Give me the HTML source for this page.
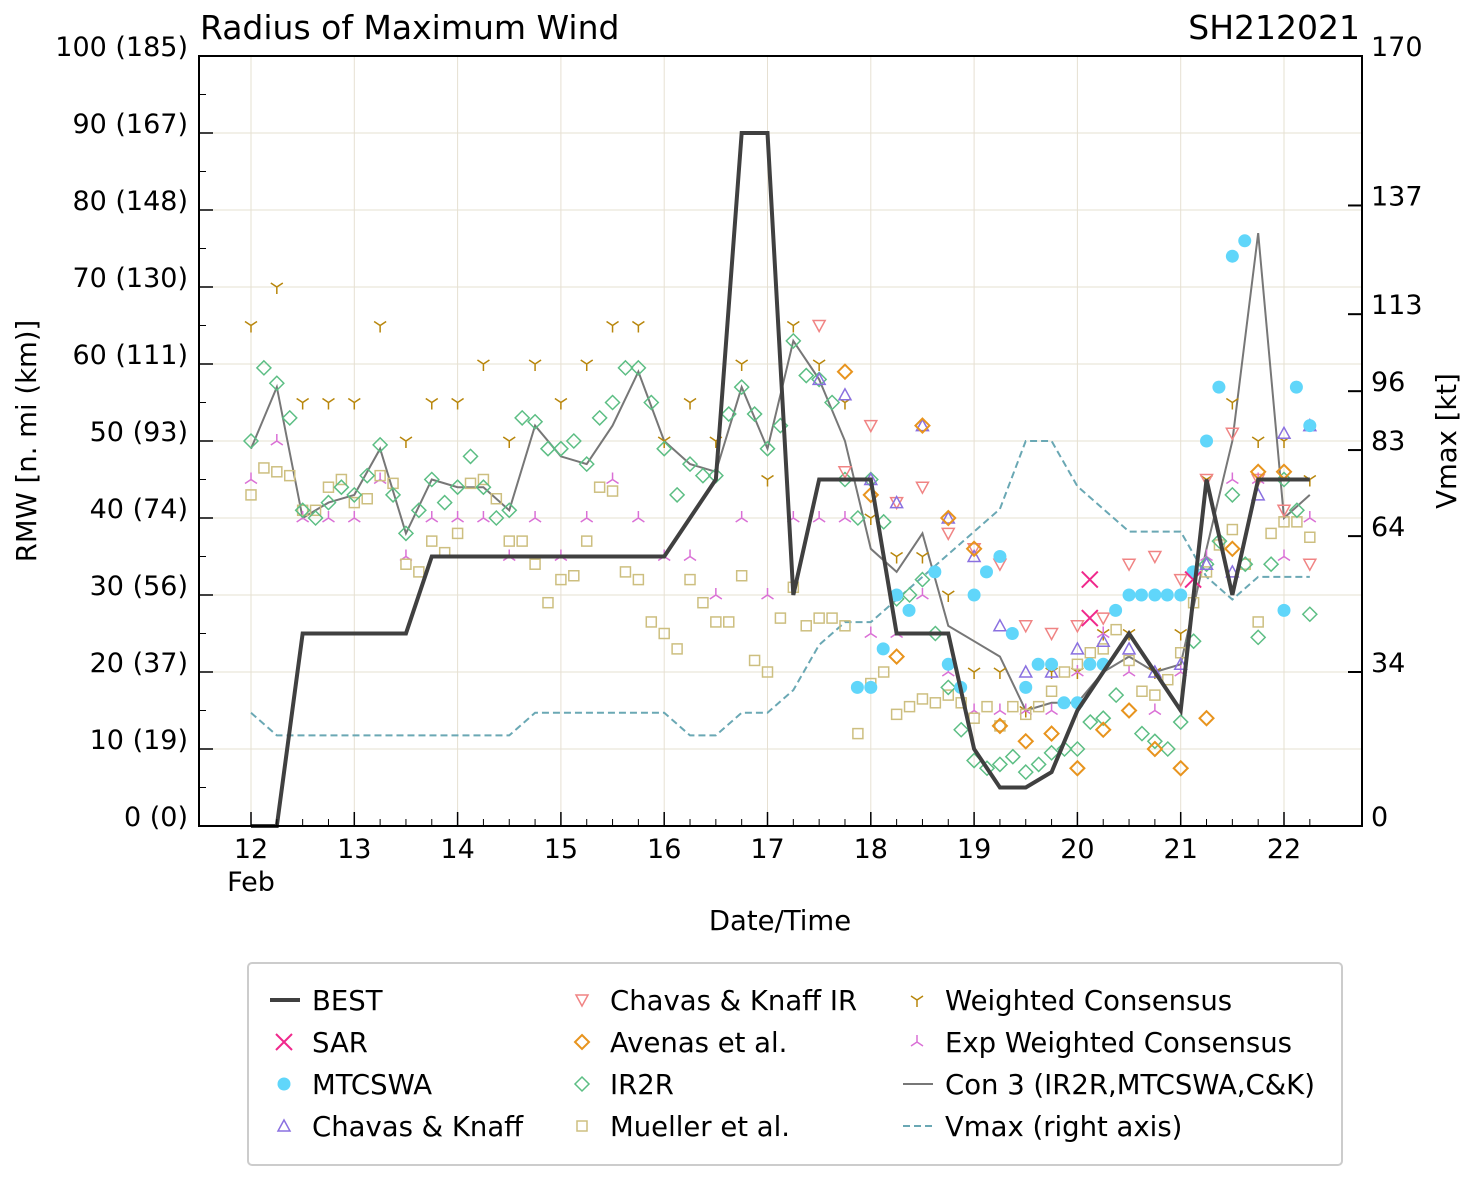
<!DOCTYPE html>
<html><head><meta charset="utf-8"><style>
body{margin:0;background:#fff;}
svg{display:block;font-family:"DejaVu Sans","Liberation Sans",sans-serif;}
</style></head><body>
<svg id="c" width="1477" height="1180"></svg>
<script>
const days=[12,12.25,12.5,12.75,13,13.25,13.5,13.75,14,14.25,14.5,14.75,15,15.25,15.5,15.75,16,16.25,16.5,16.75,17,17.25,17.5,17.75,18,18.25,18.5,18.75,19,19.25,19.5,19.75,20,20.25,20.5,20.75,21,21.25,21.5,21.75,22,22.25];
const bestV=[0,0,25,25,25,25,25,35,35,35,35,35,35,35,35,35,35,40,45,90,90,30,45,45,45,25,25,25,10,5,5,7,15,20,25,20,15,45,30,45,45,45];
const vmaxV=[25,20,20,20,20,20,20,20,20,20,20,25,25,25,25,25,25,20,20,25,25,30,40,45,45,50,55,60,65,70,85,85,75,70,65,65,65,55,50,55,55,55];
const con3V=[49,57,40,42,43,49,38,45,44,44,41,52,48,47,52,59,50,47,46,57,49,63,58,50,36,33,38,26,24,22,15,16,16,20,22,20,21,36,50,77,40,43];
const wcV=[65,70,55,55,55,65,50,55,55,60,50,60,55,60,65,65,50,55,50,60,45,65,60,55,40,35,35,30,20,20,15,20,20,25,25,20,25,45,55,50,50,45];
const ewcV=[45,50,40,40,40,45,35,40,40,40,35,40,35,40,45,40,35,35,30,40,30,40,40,40,25,25,30,20,15,15,15,15,20,25,20,15,20,35,45,45,35,40];
const sarT=[20.12,20.12,21.12], sarV=[32,27,32];
const mtT=[17.87,18,18.12,18.25,18.37,18.62,18.75,18.87,19,19.12,19.25,19.37,19.5,19.62,19.75,19.87,20,20.12,20.25,20.37,20.5,20.62,20.75,20.87,21,21.12,21.25,21.37,21.5,21.62,22,22.12,22.25];
const mtV=[18,18,23,30,28,33,21,18,30,33,35,25,18,21,21,16,16,21,21,28,30,30,30,30,30,33,50,57,74,76,28,57,52];
const ckT=[17.5,17.75,18,18.25,18.5,18.75,19,19.25,19.5,19.75,20,20.25,20.5,20.75,21,21.25,21.5,21.75,22,22.25];
const ckV=[58,56,45,42,52,40,35,26,20,20,23,24,23,20,21,34,33,43,51,52];
const ckirV=[65,46,52,42,44,38,36,34,26,25,26,27,34,35,32,45,51,45,41,34];
const avT=[17.75,18,18.25,18.5,18.75,19,19.25,19.5,19.75,20,20.25,20.5,20.75,21,21.25,21.5,21.75,22];
const avV=[59,43,22,52,40,36,13,11,12,7.5,12.5,15,10,7.5,14,36,46,46];
const irV=[50,59.5,57.5,53,41,40,42,44,43,45.5,49.5,43,38,41,45,42,44,48,44,40,41,53,52.5,49,49,50,47,53,55,59.5,59.5,55,49,43,47,45.5,45.5,53.5,57,53.5,49,52,63,58.5,58,55,45,40,45,39.5,29.5,30,32,25,18,12.5,8.5,7.5,8,9,7,8,9.5,10,10,13.5,14,17,15,12,11,10,13.5,24,34,37,43,34,24.5,34,45,41,27.5];
const muV=[43,46.5,46,45.5,41,41,44,45,42,42.5,45.5,44.5,34,33,37,35.5,38,44.5,45,42.5,37,37,34,29,32,32.5,37,44,43.5,33,32,26.5,25,23,32,29,26.5,26.5,32.5,21.5,20,27,31,26,27,27,26,12,18.5,20,14.5,15.5,16.5,16,17,16,14,15.5,13,15.5,14.5,15.5,17.5,20,21,22.5,23,25.5,21.5,17.5,17,19,22.5,29,33,36.5,38.5,34,26.5,38,39.5,39.5,37.5];
const yTicks=[0,10,20,30,40,50,60,70,80,90,100];
const yLabels=["0 (0)","10 (19)","20 (37)","30 (56)","40 (74)","50 (93)","60 (111)","70 (130)","80 (148)","90 (167)","100 (185)"];
const rTicks=[0,34,64,83,96,113,137,170];
const xTicks=[12,13,14,15,16,17,18,19,20,21,22];

const L=199,R=1362,T=56,B=826;
const X=t=>251+(t-12)*103.3;
const Y=v=>B-v*7.7;
const YR=v=>B-v*770/170;
const svg=document.getElementById('c');
const NS='http://www.w3.org/2000/svg';
function mk(tag,attrs,parent){const e=document.createElementNS(NS,tag);for(const k in attrs)e.setAttribute(k,attrs[k]);(parent||svg).appendChild(e);return e;}
function txt(s,x,y,size,anchor,parent){const e=mk('text',{x:x,y:y,'font-size':size,'text-anchor':anchor||'start',fill:'#000'},parent);e.textContent=s;return e;}
const tHalf=[];for(let i=0;i<irV.length;i++)tHalf.push(12+i*0.125);

const grid=mk('g',{});


xTicks.forEach(t=>mk('line',{x1:X(t),x2:X(t),y1:T,y2:B,stroke:'#e6e0d2','stroke-width':1},grid));
yTicks.forEach(v=>mk('line',{x1:L,x2:R,y1:Y(v),y2:Y(v),stroke:'#e6e0d2','stroke-width':1},grid));

function poly(ts,vs,yf,style,name){const p=mk('polyline',Object.assign({points:ts.map((t,i)=>X(t)+','+yf(vs[i])).join(' '),fill:'none'},style));

}
function marker(kind,x,y,g){
  if(kind==='x'){mk('path',{d:`M${x-8},${y-8}L${x+8},${y+8}M${x-8},${y+8}L${x+8},${y-8}`,stroke:'#f0288c','stroke-width':2,fill:'none'},g);}
  else if(kind==='o'){mk('circle',{cx:x,cy:y,r:6.5,fill:'#60d6fa'},g);}
  else if(kind==='^'){mk('path',{d:`M${x},${y-6}L${x+6},${y+5}L${x-6},${y+5}Z`,fill:'none',stroke:'#8a70e0','stroke-width':1.5},g);}
  else if(kind==='v'){mk('path',{d:`M${x},${y+6}L${x+6},${y-5}L${x-6},${y-5}Z`,fill:'none',stroke:'#f08484','stroke-width':1.5},g);}
  else if(kind==='da'){mk('path',{d:`M${x},${y-7}L${x+7},${y}L${x},${y+7}L${x-7},${y}Z`,fill:'none',stroke:'#e8941e','stroke-width':2},g);}
  else if(kind==='dg'){mk('path',{d:`M${x},${y-7}L${x+7},${y}L${x},${y+7}L${x-7},${y}Z`,fill:'none',stroke:'#5cbe84','stroke-width':1.5},g);}
  else if(kind==='s'){mk('rect',{x:x-5,y:y-5,width:10,height:10,fill:'none',stroke:'#cdbf80','stroke-width':1.5},g);}
  else if(kind==='1'){mk('path',{d:`M${x},${y}L${x},${y+7}M${x},${y}L${x-6},${y-4}M${x},${y}L${x+6},${y-4}`,fill:'none',stroke:'#b8860b','stroke-width':1.5},g);}
  else if(kind==='2'){mk('path',{d:`M${x},${y}L${x},${y-7}M${x},${y}L${x-6},${y+4}M${x},${y}L${x+6},${y+4}`,fill:'none',stroke:'#da70d6','stroke-width':1.5},g);}
}
function scatter(kind,ts,vs,name){const g=mk('g',{});


ts.forEach((t,i)=>marker(kind,X(t),Y(vs[i]),g));}

poly(days,vmaxV,YR,{stroke:'#6aa8b4','stroke-width':2,'stroke-dasharray':'7,4'},'vmax-line');
poly(days,con3V,Y,{stroke:'#777','stroke-width':2},'con3-line');
scatter('1',days,wcV,'weighted-consensus-points');
scatter('2',days,ewcV,'exp-weighted-consensus-points');
scatter('s',tHalf.slice(0,muV.length),muV,'mueller-points');
scatter('dg',tHalf.slice(0,irV.length),irV,'ir2r-points');
scatter('v',ckT,ckirV,'chavas-knaff-ir-points');
scatter('^',ckT,ckV,'chavas-knaff-points');
scatter('da',avT,avV,'avenas-points');
scatter('o',mtT,mtV,'mtcswa-points');
scatter('x',sarT,sarV,'sar-points');
poly(days,bestV,Y,{stroke:'#404040','stroke-width':4},'best-line');

mk('rect',{x:L,y:T,width:R-L,height:B-T,fill:'none',stroke:'#000','stroke-width':2});
const ax=mk('g',{});


yTicks.forEach((v,i)=>{mk('line',{x1:L,x2:L+14,y1:Y(v),y2:Y(v),stroke:'#000','stroke-width':1.5},ax);txt(yLabels[i],188,Y(v),27,'end',ax);});
for(let v=5;v<100;v+=10)mk('line',{x1:L,x2:L+7,y1:Y(v),y2:Y(v),stroke:'#000','stroke-width':1},ax);
const rx=mk('g',{});


rTicks.forEach(v=>{mk('line',{x1:R-14,x2:R,y1:YR(v),y2:YR(v),stroke:'#000','stroke-width':2},rx);txt(String(v),1371,YR(v),27,'start',rx);});
const xa=mk('g',{});


xTicks.forEach(t=>{mk('line',{x1:X(t),x2:X(t),y1:B,y2:B-14,stroke:'#000','stroke-width':1.5},xa);txt(String(t),X(t),858,27,'middle',xa);});
for(let t=12.25;t<22.5;t+=0.25){if(t%1)mk('line',{x1:X(t),x2:X(t),y1:B,y2:B-7,stroke:'#000','stroke-width':1},xa);}
txt('Feb',251,891,27,'middle',xa);
const xt=txt('Date/Time',780,930,27.5,'middle');

const yt=txt('RMW [n. mi (km)]',0,0,27.5,'middle');yt.setAttribute('transform','translate(36,441) rotate(-90)');

const rt=txt('Vmax [kt]',0,0,27.5,'middle');rt.setAttribute('transform','translate(1456,441) rotate(-90)');

const t1=txt('Radius of Maximum Wind',200,39,33,'start');
const t2=txt('SH212021',1360,39,33,'end');

const lg=mk('g',{});


mk('rect',{x:248,y:963,width:1094,height:202,rx:4,fill:'#fff',stroke:'#ccc','stroke-width':2},lg);
const leg=[
 ['line','BEST',270,1000],['x','SAR',270,1042],['o','MTCSWA',270,1084],['^','Chavas & Knaff',270,1126],
 ['v','Chavas & Knaff IR',568,1000],['da','Avenas et al.',568,1042],['dg','IR2R',568,1084],['s','Mueller et al.',568,1126],
 ['1','Weighted Consensus',903,1000],['2','Exp Weighted Consensus',903,1042],['gray','Con 3 (IR2R,MTCSWA,C&K)',903,1084],['dash','Vmax (right axis)',903,1126]];
leg.forEach(([k,label,x,y])=>{
 const e=mk('g',{},lg);
 
 
 if(k==='line')mk('line',{x1:x,x2:x+30,y1:y,y2:y,stroke:'#404040','stroke-width':4},e);
 else if(k==='gray')mk('line',{x1:x,x2:x+30,y1:y,y2:y,stroke:'#777','stroke-width':2},e);
 else if(k==='dash')mk('line',{x1:x,x2:x+30,y1:y,y2:y,stroke:'#6aa8b4','stroke-width':2,'stroke-dasharray':'7,4'},e);
 else marker(k,x+14,y,e);
 txt(label,x+42,y+10,27.5,'start',e);
});
</script>
</body></html>
